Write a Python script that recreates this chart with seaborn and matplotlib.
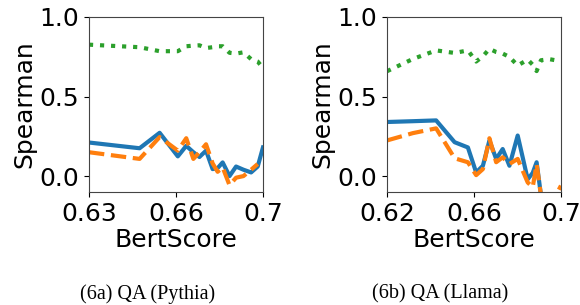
import numpy as np
import pandas as pd
import matplotlib
matplotlib.use("Agg")
import matplotlib.pyplot as plt
import seaborn as sns

# ---- data ----
x_pythia = [0.6300, 0.6492, 0.6568, 0.6637, 0.6669, 0.6696, 0.6719, 0.6744, 0.6769,
            0.6788, 0.6807, 0.6833, 0.6858, 0.6886, 0.6915, 0.6940, 0.6960]
solid_pythia = [0.211, 0.175, 0.272, 0.124, 0.190, 0.150, 0.120, 0.160, 0.044,
                0.050, 0.086, 0.000, 0.060, 0.040, 0.023, 0.060, 0.180]
dashed_pythia = [0.150, 0.108, 0.245, 0.160, 0.238, 0.108, 0.150, 0.200, 0.080,
                 0.027, 0.055, -0.057, -0.010, 0.000, 0.040, 0.076, np.nan]
dotted_pythia = [0.826, 0.810, 0.785, 0.785, 0.816, 0.820, 0.822, 0.805, 0.810,
                 0.816, 0.816, 0.775, 0.770, 0.778, 0.735, 0.720, 0.680]

x_llama = [0.6200, 0.6319, 0.6426, 0.6511, 0.6572, 0.6610, 0.6641, 0.6671, 0.6702,
           0.6732, 0.6763, 0.6801, 0.6847, 0.6870, 0.6888, 0.6908, 0.6946, 0.7000]
solid_llama = [0.340, 0.345, 0.350, 0.213, 0.180, 0.023, 0.065, 0.224, 0.108,
               0.170, 0.065, 0.255, -0.020, 0.020, 0.087, -0.120, -0.250, -0.250]
dashed_llama = [0.224, 0.270, 0.300, 0.112, 0.087, 0.006, 0.044, 0.238, 0.087,
                0.118, 0.076, 0.108, -0.040, -0.070, 0.076, -0.120, -0.200, -0.060]
dotted_llama = [0.659, 0.736, 0.790, 0.774, 0.790, 0.720, 0.753, 0.800, 0.780,
                0.770, 0.749, 0.695, 0.732, 0.700, 0.660, 0.728, 0.735, 0.722]

xtick_labels_pythia = ["0.63", "0.66", "0.7"]
xtick_labels_llama = ["0.62", "0.66", "0.7"]
captions = ["(6a) QA (Pythia)", "(6b) QA (Llama)"]

panels = [
    (x_pythia, solid_pythia, dashed_pythia, dotted_pythia, xtick_labels_pythia),
    (x_llama, solid_llama, dashed_llama, dotted_llama, xtick_labels_llama),
]

fig = plt.figure(figsize=(5.8, 3.05), dpi=100)
axes = [fig.add_axes([0.1534, 0.3705, 0.300, 0.5738]),
        fig.add_axes([0.6672, 0.3705, 0.300, 0.5738])]

for ax, (xs, solid, dashed, dotted, xlabels) in zip(axes, panels):
    df = pd.DataFrame({"x": xs, "solid": solid, "dashed": dashed, "dotted": dotted})
    sns.lineplot(data=df, x="x", y="solid", ax=ax, color="#1f77b4", lw=3, linestyle="-")
    sns.lineplot(data=df, x="x", y="dashed", ax=ax, color="#ff7f0e", lw=3, linestyle="--")
    sns.lineplot(data=df, x="x", y="dotted", ax=ax, color="#2ca02c", lw=3, linestyle=":")
    ax.set_xlim(min(xs), max(xs))
    ax.set_ylim(-0.1, 1.0)
    ax.set_xticks(np.linspace(min(xs), max(xs), 3))
    ax.set_xticklabels(xlabels)
    ax.set_yticks([0.0, 0.5, 1.0])
    ax.set_yticklabels(["0.0", "0.5", "1.0"])
    ax.tick_params(labelsize=18)
    ax.set_xlabel("BertScore", fontsize=18, labelpad=2)
    ax.set_ylabel("Spearman", fontsize=18, labelpad=2)
    for s in ax.spines.values():
        s.set_color("#444444")

fig.text(0.255, 0.035, captions[0], ha="center", va="center",
         family="Liberation Serif", fontsize=14.5)
fig.text(0.759, 0.035, captions[1], ha="center", va="center",
         family="Liberation Serif", fontsize=14.5)

fig.savefig("out.png", dpi=100)
